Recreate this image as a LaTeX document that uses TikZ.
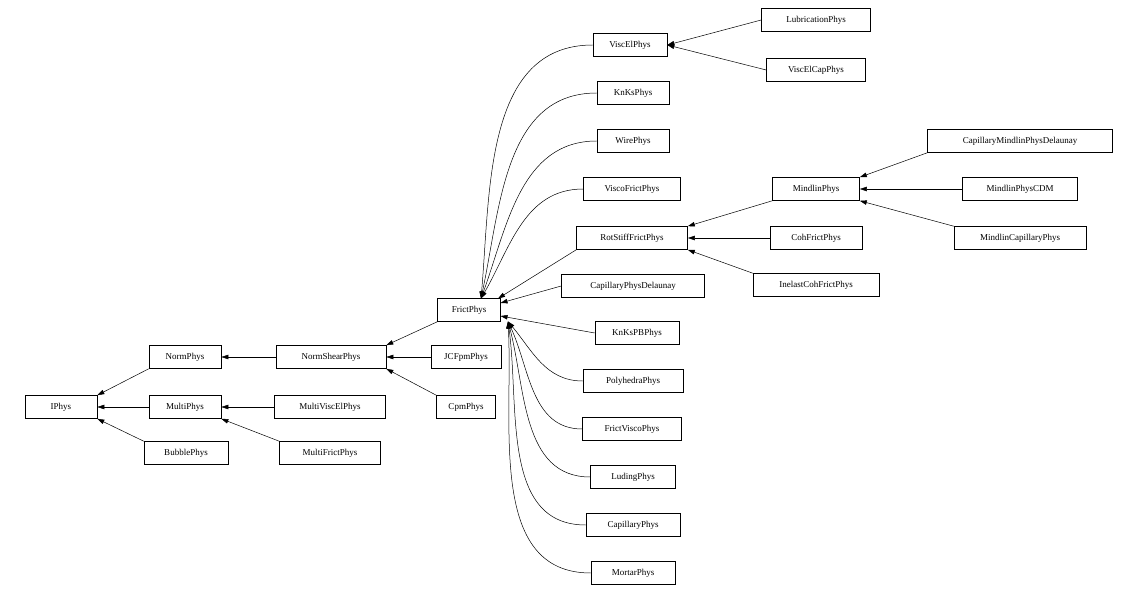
\documentclass[tikz,border=0pt]{standalone}
\usepackage{fontspec}
\setmainfont{Liberation Serif}
\usetikzlibrary{arrows.meta}
\begin{document}
\begin{tikzpicture}[x=1pt,y=-1pt,
  box/.style={draw,line width=0.6pt,minimum height=23pt,inner sep=0pt,font=\fontsize{9}{10}\selectfont},
  ed/.style={line width=0.5pt,-{Triangle[length=7pt,width=4.5pt]}}]
\useasboundingbox (0,0) rectangle (1138,596);
\def\nd#1#2#3#4#5{\node[box,minimum width=#4pt] (#1) at (#2,#3) {#5};}
\nd{IPhys}{61}{407}{72}{IPhys}
\nd{NormPhys}{185}{357}{72}{NormPhys}
\nd{MultiPhys}{185}{407}{72}{MultiPhys}
\nd{BubblePhys}{186}{453}{84}{BubblePhys}
\nd{NormShearPhys}{331}{357}{110}{NormShearPhys}
\nd{MultiViscElPhys}{330}{407}{111}{MultiViscElPhys}
\nd{MultiFrictPhys}{330}{453}{101}{MultiFrictPhys}
\nd{JCFpmPhys}{466}{357}{70}{JCFpmPhys}
\nd{CpmPhys}{466}{407}{59}{CpmPhys}
\nd{FrictPhys}{469}{310}{63}{FrictPhys}
\nd{ViscElPhys}{630}{45}{74}{ViscElPhys}
\nd{KnKsPhys}{633}{93}{72}{KnKsPhys}
\nd{WirePhys}{633}{141}{72}{WirePhys}
\nd{ViscoFrictPhys}{632}{189}{97}{ViscoFrictPhys}
\nd{RotStiffFrictPhys}{632}{238}{111}{RotStiffFrictPhys}
\nd{CapillaryPhysDelaunay}{633}{286}{143}{CapillaryPhysDelaunay}
\nd{KnKsPBPhys}{637}{333}{84}{KnKsPBPhys}
\nd{PolyhedraPhys}{633}{381}{100}{PolyhedraPhys}
\nd{FrictViscoPhys}{632}{429}{99}{FrictViscoPhys}
\nd{LudingPhys}{633}{477}{85}{LudingPhys}
\nd{CapillaryPhys}{633}{525}{94}{CapillaryPhys}
\nd{MortarPhys}{633}{573}{84}{MortarPhys}
\nd{LubricationPhys}{816}{20}{109}{LubricationPhys}
\nd{ViscElCapPhys}{816}{70}{99}{ViscElCapPhys}
\nd{MindlinPhys}{816}{189}{87}{MindlinPhys}
\nd{CohFrictPhys}{816}{238}{92}{CohFrictPhys}
\nd{InelastCohFrictPhys}{816}{285}{126}{InelastCohFrictPhys}
\nd{CapillaryMindlinPhysDelaunay}{1020}{141}{185}{CapillaryMindlinPhysDelaunay}
\nd{MindlinPhysCDM}{1020}{189}{115}{MindlinPhysCDM}
\nd{MindlinCapillaryPhys}{1020}{238}{132}{MindlinCapillaryPhys}
% simple edges
\draw[ed] (NormPhys.south west) -- (IPhys.north east);
\draw[ed] (MultiPhys) -- (IPhys);
\draw[ed] (BubblePhys.north west) -- (IPhys.south east);
\draw[ed] (NormShearPhys) -- (NormPhys);
\draw[ed] (MultiViscElPhys) -- (MultiPhys);
\draw[ed] (MultiFrictPhys.north west) -- (MultiPhys.south east);
\draw[ed] (JCFpmPhys) -- (NormShearPhys);
\draw[ed] (CpmPhys.north west) -- (NormShearPhys.south east);
\draw[ed] (FrictPhys.south west) -- (NormShearPhys.north east);
\draw[ed] (LubricationPhys.west) -- (ViscElPhys.east);
\draw[ed] (ViscElCapPhys.west) -- (ViscElPhys.east);
\draw[ed] (MindlinPhys.south west) -- (RotStiffFrictPhys.north east);
\draw[ed] (CohFrictPhys) -- (RotStiffFrictPhys);
\draw[ed] (InelastCohFrictPhys.north west) -- (RotStiffFrictPhys.south east);
\draw[ed] (CapillaryMindlinPhysDelaunay.south west) -- (MindlinPhys.north east);
\draw[ed] (MindlinPhysCDM) -- (MindlinPhys);
\draw[ed] (MindlinCapillaryPhys.north west) -- (MindlinPhys.south east);
% edges to FrictPhys
\coordinate (ft) at (481,298.5);
\coordinate (fb) at (508,321.5);
\draw[ed] (ViscElPhys.west) to[out=180,in=85] (ft);
\draw[ed] (KnKsPhys.west) to[out=180,in=78] (ft);
\draw[ed] (WirePhys.west) to[out=180,in=70] (ft);
\draw[ed] (ViscoFrictPhys.west) to[out=180,in=60] (ft);
\draw[ed] (RotStiffFrictPhys.south west) -- (498,298.5);
\draw[ed] (CapillaryPhysDelaunay.west) -- (500.5,303);
\draw[ed] (KnKsPBPhys.west) -- (500.5,316);
\draw[ed] (PolyhedraPhys.west) to[out=180,in=-50] (fb);
\draw[ed] (FrictViscoPhys.west) to[out=180,in=-65] (fb);
\draw[ed] (LudingPhys.west) to[out=180,in=-75] (fb);
\draw[ed] (CapillaryPhys.west) to[out=180,in=-82] (fb);
\draw[ed] (MortarPhys.west) to[out=180,in=-87] (fb);
\end{tikzpicture}
\end{document}
